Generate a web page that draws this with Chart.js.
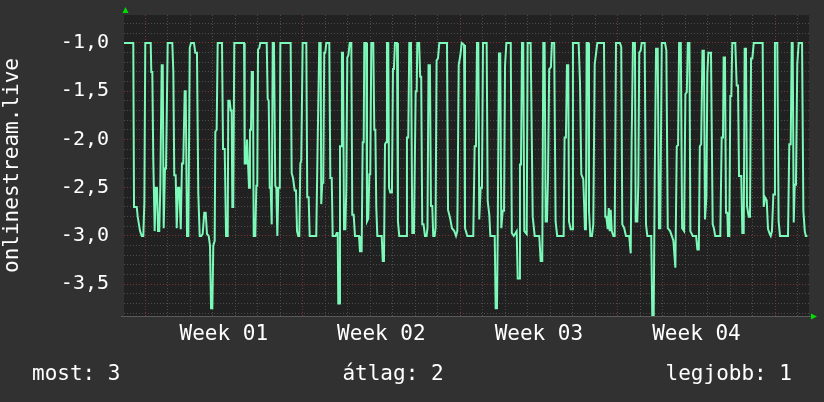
<!DOCTYPE html>
<html>
<head>
<meta charset="utf-8">
<script src="https://cdn.jsdelivr.net/npm/chart.js@4.4.1/dist/chart.umd.min.js"></script>
<style>
  html, body { margin: 0; padding: 0; background: #313131; }
  #wrap { width: 824px; height: 402px; }
</style>
</head>
<body>
<div id="wrap"><canvas id="rrd" width="824" height="402"></canvas></div>
<script>
// hours since the start of Week 01
const hours = [
  -22.4, -12.5, -11.7, -8.8, -7.8, -5.3, -3.5, -1.8, -0.7, 0.3,
  6.1, 6.7, 7.8, 8.8, 10.3, 11.4, 12.8, 13.9, 15.2, 16.3,
  17.8, 18.9, 19.9, 21.3, 22.4, 24.2, 29.1, 30.2, 31.2, 32.7,
  33.8, 35.2, 36.6, 38.1, 39.4, 40.8, 42.3, 43.4, 44.8, 46.2,
  47.7, 49.0, 52.2, 53.6, 55.4, 56.8, 58.3, 60.0, 61.5, 63.2,
  64.7, 66.1, 67.9, 69.3, 70.4, 71.8, 72.8, 74.3, 75.0, 76.4,
  77.5, 82.1, 83.2, 85.0, 86.4, 88.2, 88.8, 90.3, 91.4, 92.4,
  93.1, 94.1, 95.2, 105.6, 106.3, 107.7, 108.8, 109.8, 110.9, 111.9,
  113.0, 113.8, 115.1, 115.9, 117.6, 118.7, 119.7, 120.5, 121.9, 122.9,
  129.8, 130.8, 131.9, 133.0, 134.0, 135.1, 136.2, 137.5, 138.9, 140.0,
  141.1, 142.2, 143.7, 144.3, 155.3, 156.4, 157.8, 159.6, 161.0, 162.1,
  163.4, 164.5, 165.6, 166.6, 168.1, 172.0, 173.0, 174.5, 175.6, 182.6,
  184.1, 185.8, 187.3, 187.9, 189.0, 190.1, 191.1, 192.2, 193.3, 196.5,
  197.6, 199.1, 200.1, 203.3, 204.4, 205.5, 206.1, 207.2, 207.9, 209.0,
  210.0, 211.1, 212.2, 213.6, 214.6, 215.7, 216.8, 218.3, 220.0, 221.0,
  222.5, 223.9, 228.2, 229.2, 231.0, 232.1, 233.2, 233.8, 235.9, 236.7,
  238.1, 239.2, 240.2, 241.3, 243.4, 244.5, 245.6, 246.6, 247.7, 252.4,
  253.5, 254.8, 255.9, 257.0, 258.0, 259.4, 260.2, 261.5, 263.3, 264.4,
  265.4, 266.5, 268.7, 269.7, 271.1, 278.3, 279.3, 280.7, 281.8, 283.6,
  285.0, 286.8, 288.6, 289.7, 290.3, 292.3, 293.4, 294.5, 295.6, 297.0,
  298.5, 300.2, 301.2, 302.3, 303.8, 304.9, 306.3, 307.3, 308.8, 309.8,
  310.9, 312.4, 313.8, 322.0, 323.1, 325.2, 327.3, 329.8, 331.6, 333.0,
  334.5, 336.2, 337.7, 340.2, 341.2, 343.7, 350.0, 351.5, 352.9, 354.0,
  355.4, 356.4, 357.9, 359.3, 360.4, 364.3, 365.4, 367.1, 368.2, 372.9,
  373.9, 375.3, 376.1, 377.4, 378.8, 379.9, 381.4, 382.8, 383.9, 385.3,
  390.0, 391.1, 393.2, 396.3, 397.4, 399.1, 399.8, 400.9, 402.0, 403.3,
  404.4, 407.0, 408.0, 411.2, 413.4, 415.5, 420.4, 421.9, 423.6, 424.7,
  426.1, 427.2, 428.6, 429.7, 431.0, 432.8, 433.9, 436.3, 437.8, 439.5,
  446.4, 447.4, 448.8, 449.9, 451.3, 452.1, 453.9, 455.3, 456.3, 462.4,
  463.8, 465.2, 467.3, 469.1, 470.2, 470.9, 472.6, 473.4, 474.8, 476.6,
  478.0, 479.5, 480.9, 482.3, 489.4, 490.8, 491.9, 493.4, 494.5, 495.5,
  496.6, 497.7, 499.4, 500.8, 502.2, 506.4, 507.8, 508.9, 511.0, 512.8,
  516.3, 517.9, 518.9, 520.3, 522.4, 523.2, 524.9, 526.0, 527.0, 528.5,
  529.6, 532.8, 534.2, 535.6, 539.8, 540.9, 542.4, 543.5, 544.9, 546.7,
  548.0, 549.4, 551.0, 554.5, 555.9, 557.4, 559.9, 561.7, 563.4, 565.5,
  567.0, 568.4, 569.5, 571.3, 572.7, 574.8, 576.2, 577.7, 578.8, 580.5,
  581.5, 584.1, 587.6, 589.0, 590.5, 591.6, 593.0, 594.4, 595.9, 597.1,
  598.6, 599.6, 600.7, 603.5, 605.3, 606.6, 608.0, 613.4, 614.9, 616.3,
  617.0, 618.4, 619.5, 620.9, 621.6, 623.0, 624.1, 625.2, 626.2, 629.4,
  630.9, 632.3, 633.4, 635.8, 636.9, 638.4, 639.4, 640.8, 641.9, 643.7,
  645.1, 646.2, 647.6, 649.1, 658.6, 659.7, 661.1, 662.9, 664.3, 666.2,
  667.2, 668.5, 670.0, 671.0, 671.7, 674.2, 675.6, 677.1, 685.6, 687.0,
  688.5, 689.6, 690.6, 691.7, 692.8, 694.1, 695.5, 697.0, 700.6, 702.0,
  703.5, 704.6, 706.3
];
const values = [
  -1.0, -1.0, -2.7, -2.7, -2.8, -2.95, -3.0, -3.0, -2.65, -1.0,
  -1.0, -1.3, -1.3, -2.2, -2.95, -2.5, -2.5, -2.95, -2.95, -2.5,
  -1.23, -1.23, -2.92, -2.3, -2.3, -1.0, -1.0, -1.3, -2.37, -2.37,
  -2.92, -2.5, -2.5, -2.93, -2.25, -2.25, -1.5, -1.5, -3.0, -3.0,
  -1.05, -1.0, -1.0, -1.1, -1.1, -2.55, -3.0, -3.0, -2.98, -2.76,
  -2.76, -2.98, -3.0, -3.1, -3.75, -3.75, -3.1, -3.05, -1.92, -1.9,
  -1.0, -1.0, -2.1, -2.1, -3.0, -3.0, -1.6, -1.6, -1.7, -1.7,
  -2.7, -2.7, -1.0, -1.0, -2.25, -2.25, -2.0, -2.0, -2.5, -1.9,
  -1.9, -1.3, -1.3, -3.0, -3.0, -2.48, -2.48, -1.07, -1.05, -1.0,
  -1.0, -1.58, -1.6, -2.5, -2.5, -2.88, -1.0, -1.0, -2.48, -2.5,
  -3.0, -2.5, -2.5, -1.0, -1.0, -2.35, -2.4, -2.53, -2.53, -2.95,
  -3.0, -3.0, -2.25, -2.22, -1.0, -1.0, -2.6, -2.6, -3.0, -3.0,
  -2.03, -1.0, -1.0, -2.67, -2.45, -2.45, -1.1, -1.1, -1.0, -1.0,
  -2.4, -2.4, -3.0, -3.0, -2.97, -2.97, -3.7, -3.7, -2.07, -2.07,
  -1.1, -1.1, -2.93, -2.93, -2.53, -1.15, -1.13, -1.0, -1.0, -2.78,
  -2.78, -3.0, -3.0, -3.16, -3.16, -2.03, -2.03, -1.0, -1.0, -2.85,
  -2.82, -2.36, -2.36, -1.0, -1.0, -1.9, -1.9, -2.7, -3.0, -3.0,
  -3.26, -3.26, -2.05, -2.03, -1.0, -1.0, -2.5, -2.55, -2.55, -1.27,
  -1.27, -1.0, -1.0, -2.85, -3.0, -3.0, -1.98, -1.98, -1.0, -1.0,
  -2.97, -2.97, -1.5, -1.5, -1.0, -1.0, -1.35, -1.35, -2.88, -2.88,
  -3.0, -3.0, -2.92, -1.23, -1.23, -2.69, -2.69, -3.0, -3.0, -2.92,
  -1.18, -1.16, -1.0, -1.0, -2.73, -2.81, -2.92, -2.95, -3.0, -2.95,
  -1.23, -1.13, -1.0, -1.02, -2.92, -3.0, -3.0, -2.07, -2.07, -1.0,
  -1.0, -2.83, -2.5, -2.5, -1.0, -1.0, -2.64, -2.78, -3.0, -3.0,
  -3.75, -3.75, -2.97, -1.11, -1.11, -2.92, -2.74, -2.74, -1.23, -1.0,
  -1.0, -2.97, -3.0, -2.95, -3.44, -3.44, -2.26, -2.26, -1.0, -1.0,
  -2.95, -2.98, -1.0, -1.0, -2.8, -3.0, -3.0, -3.26, -3.26, -1.0,
  -1.0, -2.85, -2.85, -2.4, -1.27, -1.25, -1.0, -1.0, -2.85, -3.0,
  -3.0, -1.98, -1.98, -1.23, -1.23, -2.85, -2.93, -2.93, -1.0, -1.0,
  -1.41, -2.36, -2.41, -2.93, -2.93, -1.0, -1.0, -2.74, -3.0, -3.0,
  -2.88, -1.22, -1.11, -1.0, -1.0, -2.8, -2.8, -2.93, -2.71, -2.95,
  -2.73, -2.95, -3.0, -3.0, -1.0, -1.0, -1.04, -2.88, -2.92, -3.0,
  -3.0, -3.18, -2.0, -1.0, -1.0, -2.85, -2.85, -2.47, -1.1, -1.08,
  -1.0, -1.0, -2.88, -3.0, -3.0, -3.84, -3.84, -2.4, -1.06, -1.06,
  -2.92, -2.92, -1.0, -1.0, -1.08, -2.92, -2.95, -3.0, -3.05, -3.33,
  -2.07, -2.06, -1.0, -1.0, -2.92, -2.95, -1.53, -1.51, -1.0, -1.0,
  -2.95, -3.0, -3.0, -3.14, -3.14, -2.07, -2.05, -1.08, -1.08, -2.83,
  -2.6, -1.32, -1.1, -1.1, -2.88, -2.92, -3.0, -3.0, -1.98, -1.98,
  -1.15, -1.15, -2.76, -2.76, -3.0, -3.0, -1.55, -1.55, -1.0, -1.0,
  -1.44, -1.44, -2.38, -2.38, -2.97, -2.97, -1.06, -1.06, -2.69, -2.8,
  -2.8, -1.16, -1.16, -1.0, -1.0, -2.7, -2.6, -2.63, -2.93, -2.98,
  -3.0, -2.95, -2.57, -2.57, -1.0, -1.0, -2.85, -3.0, -3.0, -2.05,
  -2.05, -1.0, -1.0, -2.86, -2.47, -2.47, -1.22, -1.0, -1.0, -2.74,
  -2.95, -3.0, -3.0
];

const weekLabels = ['Week 01', 'Week 02', 'Week 03', 'Week 04'];
const summaryLabels = ['most', 'átlag', 'legjobb'];
const summaryValues = [3, 2, 1];
const seriesName = 'onlinestream.live';

const xMin = -22.4, xMax = 708;   // hours
const yMin = -3.83, yMax = -0.71;

const FONT = '"DejaVu Sans Mono", monospace';
const MINOR = '#4c4c4c';
const MAJOR = '#7a3434';

Chart.defaults.font.family = FONT;

// day grid every 24h, week boundaries every 168h, labels in the middle of each week
const xTickValues = [];
for (let h = 0; h <= xMax; h += 24) xTickValues.push(h);
weekLabels.forEach((w, i) => xTickValues.push(84 + 168 * i));
xTickValues.sort((a, b) => a - b);

const yTickValues = [];
for (let k = Math.ceil(yMin * 10); k <= Math.floor(yMax * 10); k++) yTickValues.push(k / 10);

const rrdFrame = {
  id: 'rrdFrame',
  beforeDraw(chart) {
    const { ctx, chartArea: a } = chart;
    ctx.save();
    ctx.fillStyle = '#313131';
    ctx.fillRect(0, 0, chart.width, chart.height);
    ctx.fillStyle = '#212121';
    ctx.fillRect(a.left, a.top, a.right - a.left, a.bottom - a.top);
    ctx.restore();
  },
  afterDraw(chart) {
    const { ctx, chartArea: a } = chart;
    ctx.save();
    ctx.strokeStyle = '#5a5a5a';
    ctx.lineWidth = 1;
    ctx.beginPath();
    ctx.moveTo(a.left - 3, Math.round(a.bottom) + 0.5);
    ctx.lineTo(a.right + 2, Math.round(a.bottom) + 0.5);
    ctx.stroke();

    // arrows
    ctx.fillStyle = '#00dd00';
    const by = Math.round(a.bottom) + 0.5;
    ctx.beginPath();
    ctx.moveTo(a.right + 2, by - 3);
    ctx.lineTo(a.right + 8, by);
    ctx.lineTo(a.right + 2, by + 3);
    ctx.closePath();
    ctx.fill();
    const lx = Math.round(a.left) + 1.5;
    ctx.beginPath();
    ctx.moveTo(lx - 3, a.top - 2);
    ctx.lineTo(lx, a.top - 8);
    ctx.lineTo(lx + 3, a.top - 2);
    ctx.closePath();
    ctx.fill();

    // summary line
    ctx.font = '21px ' + FONT;
    ctx.fillStyle = '#ffffff';
    ctx.textBaseline = 'middle';
    const txt = summaryLabels.map((l, i) => l + ': ' + summaryValues[i]);
    ctx.textAlign = 'left';
    ctx.fillText(txt[0], 32, 375);
    ctx.textAlign = 'center';
    ctx.fillText(txt[1], 393, 375);
    ctx.textAlign = 'right';
    ctx.fillText(txt[2], 792, 375);
    ctx.restore();
  }
};

new Chart(document.getElementById('rrd'), {
  type: 'line',
  data: {
    datasets: [{
      label: seriesName,
      data: hours.map((h, i) => ({ x: h, y: values[i] })),
      borderColor: '#7cf8b8',
      borderWidth: 2,
      pointRadius: 0,
      tension: 0,
      fill: false
    }]
  },
  options: {
    responsive: false,
    animation: false,
    devicePixelRatio: 1,
    layout: { padding: { top: 15, right: 15, bottom: 0, left: 0 } },
    plugins: { legend: { display: false }, tooltip: { enabled: false } },
    scales: {
      x: {
        type: 'linear',
        min: xMin,
        max: xMax,
        afterBuildTicks: s => { s.ticks = xTickValues.map(v => ({ value: v })); },
        afterFit: s => { s.height = 86; s.paddingLeft = 0; s.paddingRight = 0; },
        ticks: {
          autoSkip: false,
          maxRotation: 0,
          padding: 6,
          color: '#ffffff',
          font: { family: FONT, size: 21 },
          callback: v => (v % 168 === 84 ? weekLabels[(v - 84) / 168] : '')
        },
        grid: {
          drawTicks: false,
          lineWidth: 1,
          color: c => {
            const v = c.tick ? c.tick.value : 0;
            if (v % 168 === 84) return 'rgba(0,0,0,0)';
            return v % 168 === 0 ? MAJOR : MINOR;
          }
        },
        border: { display: false, dash: [1, 2] }
      },
      y: {
        type: 'linear',
        min: yMin,
        max: yMax,
        afterBuildTicks: s => { s.ticks = yTickValues.map(v => ({ value: v })); },
        afterFit: s => { s.width = 124; s.paddingTop = 0; s.paddingBottom = 0; },
        ticks: {
          autoSkip: false,
          padding: 15,
          color: '#ffffff',
          font: { family: FONT, size: 20 },
          callback: v => (Math.round(v * 10) % 5 === 0 ? v.toFixed(1).replace('.', ',') : '')
        },
        title: {
          display: true,
          text: seriesName,
          color: '#ffffff',
          font: { family: FONT, size: 21 },
          padding: 0
        },
        grid: {
          drawTicks: false,
          lineWidth: 1,
          color: c => (c.tick && Math.round(c.tick.value * 10) % 5 === 0 ? MAJOR : MINOR)
        },
        border: { display: false, dash: [1, 2] }
      }
    }
  },
  plugins: [rrdFrame]
});
</script>
</body>
</html>
